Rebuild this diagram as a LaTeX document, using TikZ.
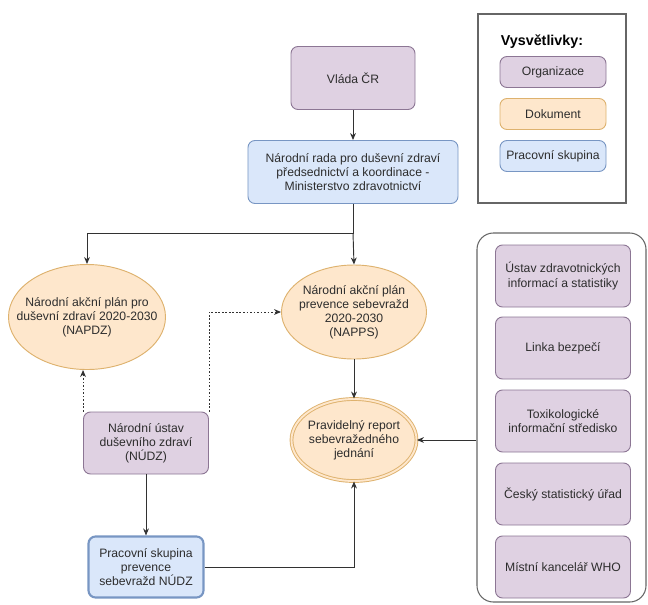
\documentclass[tikz,border=0pt]{standalone}
\usepackage{fontspec}
\setmainfont{Liberation Sans}
\usetikzlibrary{positioning,calc}
\usetikzlibrary{arrows.meta,shapes.geometric}
\definecolor{OrgFill}{RGB}{223,209,226}
\definecolor{OrgLine}{RGB}{140,118,148}
\definecolor{DocFill}{RGB}{254,231,204}
\definecolor{DocLine}{RGB}{222,178,110}
\definecolor{GrpFill}{RGB}{218,231,250}
\definecolor{GrpLine}{RGB}{120,150,195}
\definecolor{TextGray}{RGB}{45,45,45}
\definecolor{EdgeGray}{RGB}{50,50,50}
\tikzset{
  txt/.style={text=TextGray,align=center,inner sep=1pt,font=\fontsize{10.4}{12}\selectfont},
  org/.style={txt,rectangle,rounded corners=6pt,draw=OrgLine,fill=OrgFill,line width=0.8pt},
  doc/.style={txt,ellipse,draw=DocLine,fill=DocFill,line width=0.8pt},
  grp/.style={txt,rectangle,rounded corners=6pt,draw=GrpLine,fill=GrpFill,line width=0.8pt},
  frame/.style={rectangle,draw=black!60,line width=0.9pt},
  link/.style={draw=EdgeGray,line width=0.8pt,-{Stealth[length=6pt,width=5pt]}},
  dotlink/.style={link,dash pattern=on 1.5pt off 1.5pt},
}
\tikzset{legitem/.style={minimum width=3.18cm,minimum height=0.93cm},src/.style={org,minimum width=4.05cm,minimum height=1.86cm},
  tight/.style={inner xsep=-20pt,inner ysep=-10pt}}

\begin{document}
\begin{tikzpicture}[x=0.03cm,y=-0.03cm]
\useasboundingbox (0,0) rectangle (648,604);
% legenda
\node[frame,minimum width=4.44cm,minimum height=5.67cm] (legenda) at (552,108.5) {};
\node[txt,font=\fontsize{12.2}{14}\selectfont\bfseries,text=black] (legtitle) at (542,42) {Vysvětlivky:};
\node[org,legitem] (legorg) at (553,72) {Organizace};
\node[doc,legitem,rectangle,rounded corners=6pt] (legdoc) at (553,114) {Dokument};
\node[grp,legitem] (leggrp) at (553,156) {Pracovní skupina};
% hlavni tok
\node[org,minimum width=3.72cm,minimum height=1.89cm] (vlada) at (353,78) {Vláda ČR};
\node[grp,minimum width=6.3cm,minimum height=1.89cm] (rada) at (353,172)
  {Národní rada pro duševní zdraví\\předsednictví a koordinace -\\Ministerstvo zdravotnictví};
\coordinate (split) at (353,233);
\node[doc,tight,minimum width=4.71cm,minimum height=3.15cm] (napdz) at (87,317)
  {Národní akční plán pro\\duševní zdraví 2020-2030\\(NAPDZ)};
\node[doc,tight,minimum width=4.35cm,minimum height=2.82cm] (napps) at (354,312)
  {Národní akční plán\\prevence sebevražd\\2020-2030\\(NAPPS)};
\node[org,minimum width=3.75cm,minimum height=1.86cm] (nudz) at (146,443)
  {Národní ústav\\duševního zdraví\\(NÚDZ)};
\node[doc,tight,double=DocFill,double distance=1.6pt,minimum width=3.75cm,minimum height=2.46cm] (report) at (354,440)
  {Pravidelný report\\sebevražedného\\jednání};
\node[grp,line width=1.8pt,minimum width=3.45cm,minimum height=1.83cm] (ps) at (146,567)
  {Pracovní skupina\\prevence\\sebevražd NÚDZ};
% zdroje dat
\node[frame,rounded corners=14pt,minimum width=5.07cm,minimum height=11.07cm] (zdroje) at (561.5,417.5) {};
\node[src] (uzis) at (563,276) {Ústav zdravotnických\\informací a statistiky};
\node[src] (linka) at (563,348) {Linka bezpečí};
\node[src] (tis) at (563,421) {Toxikologické\\informační středisko};
\node[src] (csu) at (563,494) {Český statistický úřad};
\node[src] (who) at (563,567) {Místní kancelář WHO};
% vazby
\draw[link] (vlada) -- (rada);
\draw[link] (rada.south) -- (split) -| (napdz.north);
\draw[link] (split) -- (napps.north);
\draw[link] (napps) -- (report);
\draw[dotlink] (nudz.north west) -- (nudz.north west |- napdz.south);
\draw[dotlink] (nudz.north east) |- (napps.west);
\draw[link] (nudz) -- (ps);
\draw[link] (ps.east) -| (report.south);
\draw[link] (zdroje.west |- report.east) -- (report.east);
\end{tikzpicture}
\end{document}
